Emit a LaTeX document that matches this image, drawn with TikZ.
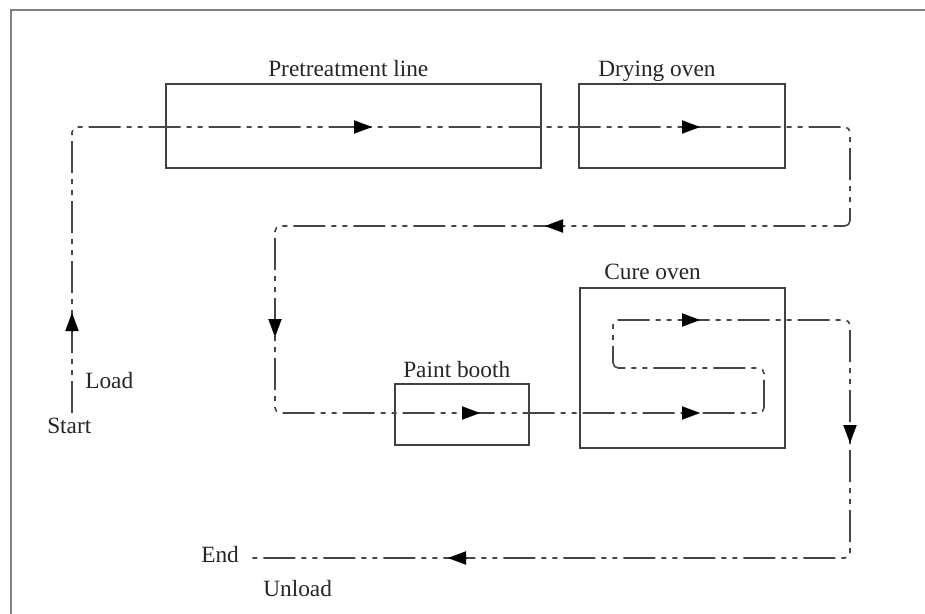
\documentclass[tikz,border=0pt]{standalone}
\usepackage{fontspec}
\setmainfont{Liberation Serif}
\usetikzlibrary{arrows.meta}
\begin{document}
\begin{tikzpicture}[x=0.75pt,y=-0.75pt,
  box/.style={draw=black!75, line width=1.1pt, inner sep=0pt, outer sep=0pt},
  lbl/.style={font=\fontsize{17.5}{20}\selectfont, text=black!85, inner sep=0pt, anchor=base west},
  flow/.style={draw=black!72, line width=1.2pt, dash pattern=on 24pt off 4.5pt on 3.75pt off 4.5pt on 3.75pt off 4.5pt, rounded corners=4pt},
  tip/.style={-{Triangle[length=13.5pt,width=10pt]}, draw=black, fill=black, line width=0.2pt, solid}]
\useasboundingbox (0,0) rectangle (925,614);
% frame
\coordinate (fbl) at (11,620);
\coordinate (ftl) at (11,10);
\coordinate (ftr) at (930,10);
\draw[black!50, line width=1.5pt] (fbl) -- (ftl) -- (ftr);
% boxes
\node[box, minimum width=281.25pt, minimum height=63pt] (pre) at (353.5,126) {};
\node[box, minimum width=154.5pt, minimum height=63pt] (dry) at (682,126) {};
\node[box, minimum width=100.5pt, minimum height=45.75pt] (paint) at (462,414.5) {};
\node[box, minimum width=153.75pt, minimum height=120pt] (cure) at (682.5,368) {};
% labels
\node[lbl] (lpre) at (268,76) {Pretreatment line};
\node[lbl] (ldry) at (598,76) {Drying oven};
\node[lbl] (lcure) at (604,279) {Cure oven};
\node[lbl] (lpaint) at (403,377) {Paint booth};
\node[lbl] (lload) at (85,388) {Load};
\node[lbl] (lstart) at (47,433) {Start};
\node[lbl] (lend) at (201,562) {End};
\node[lbl] (lunload) at (263,596) {Unload};
% path corners
\coordinate (p0) at (72,413);
\coordinate (p1) at (72,127);
\coordinate (p2) at (850,127);
\coordinate (p3) at (850,226);
\coordinate (p4) at (275,226);
\coordinate (p5) at (275,413);
\coordinate (p6) at (764,413);
\coordinate (p7) at (764,368);
\coordinate (p8) at (613,368);
\coordinate (p9) at (613,320);
\coordinate (p10) at (850,320);
\coordinate (p11) at (850,558);
\coordinate (p12) at (252,558);
\draw[flow] (p0) -- (p1) -- (p2) -- (p3) -- (p4) -- (p5) -- (p6) -- (p7) -- (p8) -- (p9) -- (p10) -- (p11) -- (p12);
% arrow tips
\coordinate (a1) at (72,313);
\coordinate (a2) at (372,127);
\coordinate (a3) at (700,127);
\coordinate (a4) at (545,226);
\coordinate (a5) at (275,337);
\coordinate (a6) at (480,413);
\coordinate (a7) at (700,413);
\coordinate (a8) at (700,320);
\coordinate (a9) at (850,443);
\coordinate (a10) at (448,558);
\draw[tip] (a1) ++(0,18) -- (a1);
\draw[tip] (a2) ++(-18,0) -- (a2);
\draw[tip] (a3) ++(-18,0) -- (a3);
\draw[tip] (a4) ++(18,0) -- (a4);
\draw[tip] (a5) ++(0,-18) -- (a5);
\draw[tip] (a6) ++(-18,0) -- (a6);
\draw[tip] (a7) ++(-18,0) -- (a7);
\draw[tip] (a8) ++(-18,0) -- (a8);
\draw[tip] (a9) ++(0,-18) -- (a9);
\draw[tip] (a10) ++(18,0) -- (a10);
\end{tikzpicture}
\end{document}
